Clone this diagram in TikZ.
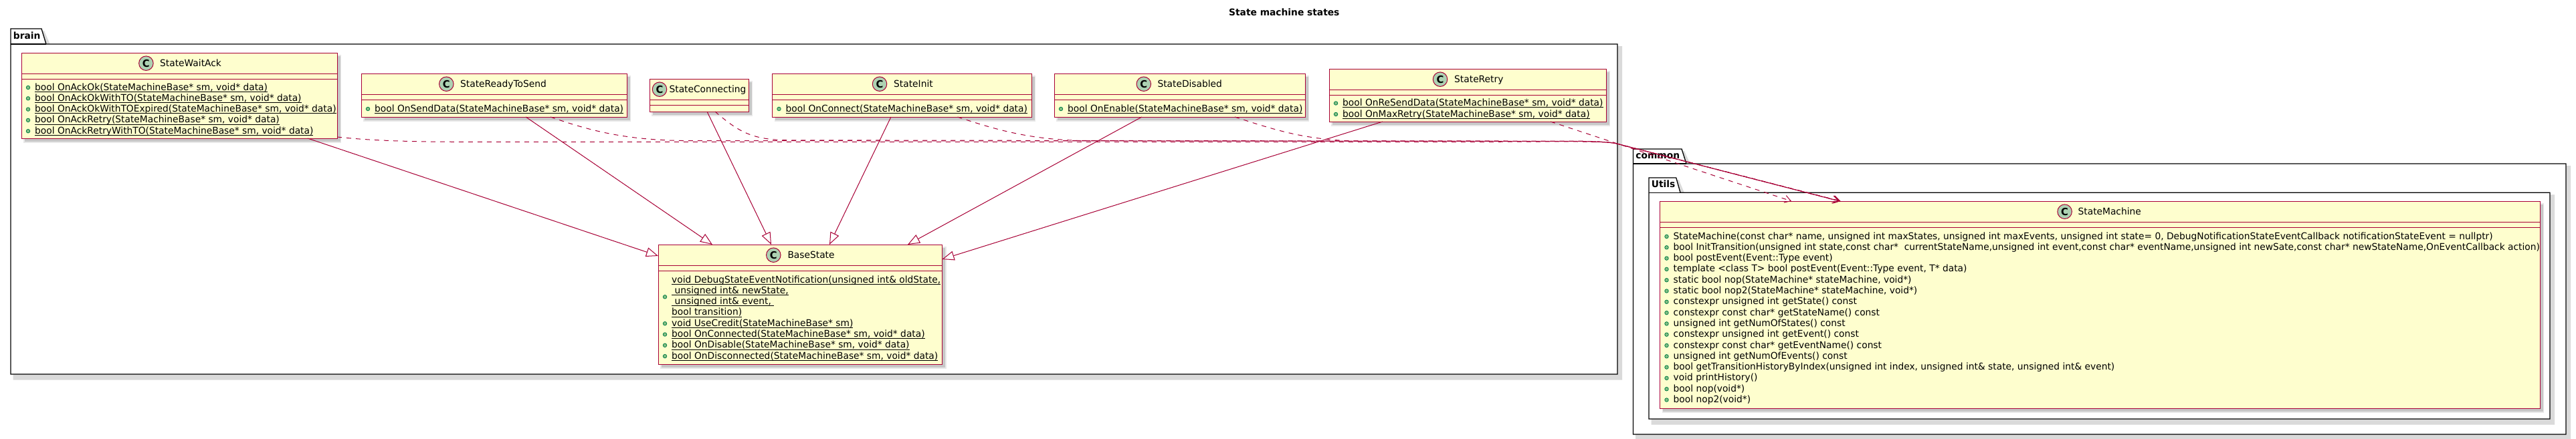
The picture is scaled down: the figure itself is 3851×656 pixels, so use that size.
\documentclass[tikz,border=0pt]{standalone}
\usepackage{fontspec}
\setmainfont[FakeStretch=0.985]{DejaVu Sans}
\usetikzlibrary{arrows.meta,calc}
\definecolor{umlline}{HTML}{A80036}
\definecolor{umlfill}{HTML}{FEFECE}
\definecolor{umlcirc}{HTML}{ADD1B2}
\definecolor{pkgshadow}{HTML}{DADADA}
\definecolor{bulletfill}{HTML}{84BE84}
\definecolor{bulletline}{HTML}{038048}
\newcount\autonum
\newcommand\nextname{\global\advance\autonum by 1 }
\newcommand\ulin[1]{\leavevmode\setbox0\hbox{#1}\rlap{\vrule width\wd0 height-1.7pt depth2.5pt}\box0 }
\tikzset{
  x=1pt,y=-1pt,
  classbox/.style={draw=umlline,fill=umlfill,line width=.9pt,inner sep=0pt,outer sep=0pt,anchor=north west},
  classsep/.style={draw=umlline,line width=.9pt},
  shadowA/.style={fill=black!9},
  shadowB/.style={fill=black!22},
  pkgline/.style={draw=black,line width=1.3pt,fill=white,line join=miter},
  pkgshade/.style={fill=pkgshadow},
  pkglabel/.style={font=\fontsize{14}{16}\selectfont\bfseries,inner sep=0pt,anchor=base west},
  titletext/.style={font=\fontsize{14}{16}\selectfont,inner sep=0pt,anchor=base west},
  rowtext/.style={font=\fontsize{14}{16}\selectfont,inner sep=0pt,anchor=base west},
  circ/.style={circle,draw=umlline,fill=umlcirc,line width=1pt,minimum size=21.5pt,inner sep=0pt,font=\fontsize{15}{16}\selectfont\bfseries},
  bullet/.style={circle,draw=bulletline,fill=bulletfill,line width=.8pt,minimum size=5.5pt,inner sep=0pt},
  inherit/.style={draw=umlline,line width=1pt,-{Triangle[open,length=18pt,width=14pt,fill=white]}},
  depend/.style={draw=umlline,line width=1pt,dash pattern=on 7pt off 7pt,-{Straight Barb[length=9pt,width=11pt]}},
}
% package: x1, tab top, body top, x2, bottom, tab top-right x, tab bottom-right x, label
\newcommand\pkg[8]{%
  \fill[pkgshade] (#1+3.5,#2+3) -- (#6+4,#2+3) -- (#7+7,#3+3) -- (#4+7,#3+3) -- (#4+7,#5+8.5) -- (#1+3.5,#5+8.5) -- cycle;
  \draw[pkgline] (#1,#2) -- (#6,#2) -- (#7,#3) -- (#4,#3) -- (#4,#5) -- (#1,#5) -- cycle;
  \draw[draw=black,line width=1.3pt] (#1,#3) -- (#7,#3);
  \nextname\node[pkglabel,name=lab\the\autonum] at (#1+3.7,#3-8) {#8};
}
% class: name, x1, y1, x2, y2, circle x, text x, title
\newcommand\classnode[8]{%
  \fill[shadowA] (#2+3,#3+3) rectangle (#4+6,#5+6.5);
  \fill[shadowB] (#2+4.5,#3+4.5) rectangle (#4+4.5,#5+4.5);
  \pgfmathsetmacro\cbw{#4-#2}\pgfmathsetmacro\cbh{#5-#3}
  \node[classbox,minimum width=\cbw pt,minimum height=\cbh pt] (#1) at (#2,#3) {};
  \draw[classsep] (#2,#3+31.7) -- (#4,#3+31.7);
  \draw[classsep] (#2,#3+39.7) -- (#4,#3+39.7);
  \node[circ,name=#1circ] at (#6,#3+15.7) {C};
  \node[titletext,name=#1title] at (#7,#3+20.7) {#8};
}
% methods: x1, baseline, text
\newcommand\methu[3]{%
  \nextname\node[bullet,name=dot\the\autonum] at (#1+10,#2-4) {};
  \node[rowtext,name=txt\the\autonum] at (#1+20,#2) {\ulin{#3}};
}
\newcommand\methp[3]{%
  \nextname\node[bullet,name=dot\the\autonum] at (#1+10,#2-4) {};
  \node[rowtext,name=txt\the\autonum] at (#1+20,#2) {#3};
}
\newcommand\cont[3]{%
  \nextname\node[rowtext,name=txt\the\autonum] at (#1+20,#2) {\ulin{#3}};
}
\begin{document}
\begin{tikzpicture}
\useasboundingbox (0,0) rectangle (3851,656);
\fill[white] (0,0) rectangle (3851,656);
\node[pkglabel,name=diagramtitle] at (1837,23) {State machine states};

% packages
\pkg{16}{43}{66}{2418}{560}{62}{69}{brain}
\pkg{2441.5}{223}{245}{3836}{650}{2514}{2521}{common}
\pkg{2465}{266}{288.3}{3812}{627}{2505.7}{2512}{Utils}

% classes
\classnode{waitack}{32}{79}{504}{207}{218.4}{239}{StateWaitAck}
\methu{32}{135}{bool OnAckOk(StateMachineBase* sm, void* data)}
\methu{32}{151.3}{bool OnAckOkWithTO(StateMachineBase* sm, void* data)}
\methu{32}{167.6}{bool OnAckOkWithTOExpired(StateMachineBase* sm, void* data)}
\methu{32}{183.9}{bool OnAckRetry(StateMachineBase* sm, void* data)}
\methu{32}{200.2}{bool OnAckRetryWithTO(StateMachineBase* sm, void* data)}

\classnode{ready}{540}{110}{937}{175}{667.3}{688}{StateReadyToSend}
\methu{540}{167}{bool OnSendData(StateMachineBase* sm, void* data)}

\classnode{connecting}{971}{118}{1119}{167}{986}{1000.4}{StateConnecting}

\classnode{init}{1154.5}{110}{1542}{175}{1315}{1336}{StateInit}
\methu{1154.5}{167}{bool OnConnect(StateMachineBase* sm, void* data)}

\classnode{disabled}{1576}{110}{1951}{175}{1709.8}{1730.3}{StateDisabled}
\methu{1576}{167}{bool OnEnable(StateMachineBase* sm, void* data)}

\classnode{retry}{1987}{103}{2401}{182}{2153}{2174}{StateRetry}
\methu{1987}{158.5}{bool OnReSendData(StateMachineBase* sm, void* data)}
\methu{1987}{175}{bool OnMaxRetry(StateMachineBase* sm, void* data)}

\classnode{base}{984}{366}{1408.5}{545}{1156.3}{1177.3}{BaseState}
\nextname\node[bullet,name=dot\the\autonum] at (994,444.3) {};
\cont{984}{423}{void DebugStateEventNotification(unsigned int\& oldState,}
\cont{984}{439.3}{\ unsigned int\& newState,}
\cont{984}{455.6}{\ unsigned int\& event,\ }
\cont{984}{471.9}{bool transition)}
\methu{984}{488.2}{void UseCredit(StateMachineBase* sm)}
\methu{984}{504.5}{bool OnConnected(StateMachineBase* sm, void* data)}
\methu{984}{520.8}{bool OnDisable(StateMachineBase* sm, void* data)}
\methu{984}{537.1}{bool OnDisconnected(StateMachineBase* sm, void* data)}

\classnode{machine}{2481.5}{301}{3797}{611}{3086.6}{3106.4}{StateMachine}
\methp{2481.5}{358}{StateMachine(const char* name, unsigned int maxStates, unsigned int maxEvents, unsigned int state= 0, DebugNotificationStateEventCallback notificationStateEvent = nullptr)}
\methp{2481.5}{374.3}{bool InitTransition(unsigned int state,const char*\ \ currentStateName,unsigned int event,const char* eventName,unsigned int newSate,const char* newStateName,OnEventCallback action)}
\methp{2481.5}{390.6}{bool postEvent(Event::Type event)}
\methp{2481.5}{406.9}{template <class T> bool postEvent(Event::Type event, T* data)}
\methp{2481.5}{423.2}{static bool nop(StateMachine* stateMachine, void*)}
\methp{2481.5}{439.5}{static bool nop2(StateMachine* stateMachine, void*)}
\methp{2481.5}{455.8}{constexpr unsigned int getState() const}
\methp{2481.5}{472.1}{constexpr const char* getStateName() const}
\methp{2481.5}{488.4}{unsigned int getNumOfStates() const}
\methp{2481.5}{504.7}{constexpr unsigned int getEvent() const}
\methp{2481.5}{521}{constexpr const char* getEventName() const}
\methp{2481.5}{537.3}{unsigned int getNumOfEvents() const}
\methp{2481.5}{553.6}{bool getTransitionHistoryByIndex(unsigned int index, unsigned int\& state, unsigned int\& event)}
\methp{2481.5}{569.9}{void printHistory()}
\methp{2481.5}{586.2}{bool nop(void*)}
\methp{2481.5}{602.5}{bool nop2(void*)}

% inheritance
\draw[inherit] ([xshift=-44pt]waitack.south east) -- ([yshift=-17pt]base.north west);
\draw[inherit] ([xshift=246pt]ready.south west) -- ([xshift=81pt]base.north west);
\draw[inherit] ([xshift=86pt]connecting.south west) -- ([xshift=169pt]base.north west);
\draw[inherit] ([xshift=177.5pt]init.south west) -- ([xshift=256pt]base.north west);
\draw[inherit] ([xshift=131pt]disabled.south west) -- ([xshift=373pt]base.north west);
\draw[inherit] ([xshift=80pt]retry.south west) -- ([yshift=-22pt]base.north east);

% dependencies
\coordinate (busA) at (2300,211.3);
\coordinate (busB) at (2417,215);
\draw[depend] ([yshift=2pt]waitack.south east) .. controls (560,211) and (620,212.3) .. (700,212.3) -- (2200,212.4) .. controls (2340,212) and (2400,210.8) .. (busB) -- ([xshift=269pt]machine.north west);
\draw[depend] ([xshift=283pt]ready.south west) .. controls (880,195) and (935,210.3) .. (1030,210.6) -- (busA) .. controls (2340,211.3) and (2400,210.6) .. (busB) -- ([xshift=268.5pt]machine.north west);
\draw[depend] ([xshift=98pt]connecting.south west) .. controls (1105,198) and (1125,209.5) .. (1180,209.8) -- (busA) .. controls (2340,211.3) and (2400,210.6) .. (busB) -- ([xshift=269.5pt]machine.north west);
\draw[depend] ([xshift=277pt]init.south west) .. controls (1500,198) and (1545,208.5) .. (1620,210.7) -- (busA) .. controls (2340,211.3) and (2400,210.6) .. (busB) -- ([xshift=268pt]machine.north west);
\draw[depend] ([xshift=270pt]disabled.south west) .. controls (1910,196) and (1950,208) .. (2020,211) -- (busA) .. controls (2340,211.3) and (2400,210.6) .. (busB) -- ([xshift=270pt]machine.north west);
\draw[depend] ([xshift=331pt]retry.south west) -- ([xshift=196.5pt]machine.north west);
\end{tikzpicture}
\end{document}
